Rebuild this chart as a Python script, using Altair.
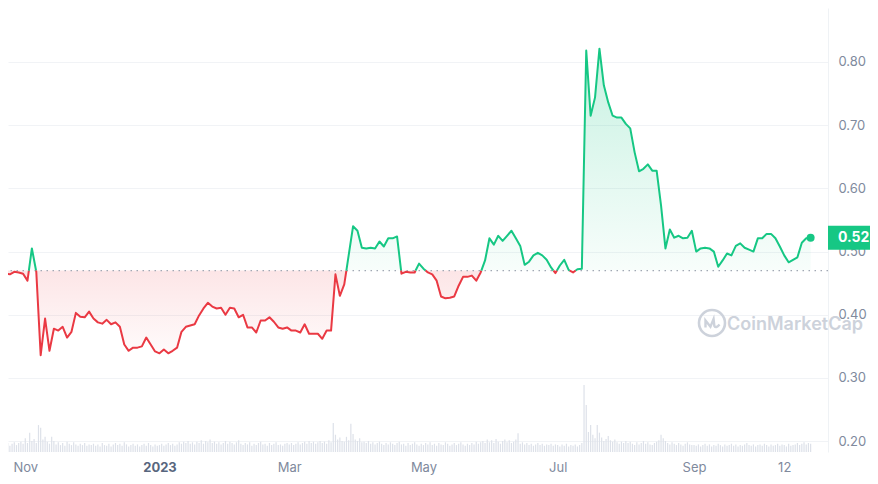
import altair as alt
import pandas as pd

START = "2022-10-23"          # first price point, one point every 2 days
BASE = 0.470                  # baseline (opening price of the period)
GREEN = "#16c784"
RED = "#ea3943"

# ---- price (USD), every 2 days ----
price_oct_jan = [0.465, 0.464, 0.468, 0.467, 0.465, 0.454, 0.505, 0.468, 0.336, 0.394,
                 0.343, 0.378, 0.375, 0.381, 0.364, 0.373, 0.403, 0.397, 0.396, 0.405,
                 0.394, 0.388, 0.386, 0.392, 0.385, 0.388, 0.381, 0.353, 0.343, 0.348,
                 0.348, 0.350, 0.364, 0.353, 0.342, 0.339, 0.345, 0.339, 0.343, 0.348,
                 0.373, 0.381, 0.383, 0.385, 0.399, 0.410]
price_jan_apr = [0.419, 0.413, 0.410, 0.411, 0.400, 0.411, 0.410, 0.396, 0.400, 0.380,
                 0.380, 0.372, 0.391, 0.391, 0.396, 0.389, 0.380, 0.378, 0.380, 0.375,
                 0.375, 0.372, 0.385, 0.370, 0.370, 0.370, 0.362, 0.375, 0.375, 0.464,
                 0.430, 0.448, 0.494, 0.540, 0.533, 0.506, 0.505, 0.506, 0.505, 0.516,
                 0.508, 0.521, 0.521, 0.524, 0.465, 0.468]
price_apr_jul = [0.467, 0.467, 0.481, 0.473, 0.467, 0.464, 0.454, 0.429, 0.426, 0.427,
                 0.429, 0.446, 0.460, 0.460, 0.462, 0.454, 0.467, 0.486, 0.521, 0.511,
                 0.525, 0.517, 0.525, 0.533, 0.521, 0.509, 0.479, 0.484, 0.494, 0.498,
                 0.494, 0.487, 0.475, 0.466, 0.478, 0.487, 0.471, 0.467, 0.472, 0.473,
                 0.818, 0.715, 0.744, 0.821, 0.763, 0.736]
price_jul_oct = [0.715, 0.712, 0.712, 0.702, 0.695, 0.657, 0.627, 0.631, 0.638, 0.628,
                 0.628, 0.573, 0.505, 0.535, 0.522, 0.525, 0.521, 0.522, 0.533, 0.500,
                 0.505, 0.506, 0.505, 0.500, 0.476, 0.486, 0.497, 0.494, 0.509, 0.513,
                 0.506, 0.503, 0.500, 0.521, 0.521, 0.528, 0.528, 0.521, 0.508, 0.494,
                 0.483, 0.487, 0.491, 0.514, 0.521, 0.522]

# ---- daily volume (billion USD) ----
vol_2022_10 = [1.1, 1.3, 0.9, 1.2, 1.4, 1.0, 1.3, 1.5, 1.2]
vol_2022_11 = [2.0, 1.3, 2.8, 1.6, 1.9, 1.3, 3.9, 3.5, 1.8, 2.2, 1.5, 1.2, 2.2, 1.6, 1.1,
               1.4, 1.0, 1.3, 0.9, 1.5, 1.2, 1.0, 1.4, 1.1, 0.9, 1.2, 1.0, 1.3, 0.9, 1.1]
vol_2022_12 = [1.0, 1.2, 0.9, 1.1, 0.8, 1.3, 1.0, 0.9, 1.2, 0.8, 1.1, 1.3, 1.0, 1.2, 0.9,
               1.4, 1.1, 0.8, 1.0, 1.2, 0.9, 1.1, 0.8, 1.0, 1.2, 0.9, 1.3, 1.0, 0.8, 1.1, 0.9]
vol_2023_01 = [1.0, 1.2, 0.9, 1.1, 1.3, 1.0, 1.2, 0.9, 1.1, 1.4, 1.2, 1.5, 1.3, 1.6, 1.2,
               1.4, 1.1, 1.5, 1.3, 1.7, 1.2, 1.6, 1.4, 1.8, 1.3, 1.5, 1.2, 1.4, 1.1, 1.3, 1.6]
vol_2023_02 = [1.2, 1.5, 1.3, 1.1, 1.4, 1.7, 1.2, 1.0, 1.3, 1.1, 1.4, 0.9, 1.2, 1.0, 1.3,
               1.5, 1.1, 1.2, 0.9, 1.3, 1.0, 1.2, 1.4, 1.0, 1.1, 0.9, 1.2, 1.3]
vol_2023_03 = [1.1, 1.3, 1.0, 1.2, 1.4, 1.1, 1.3, 1.5, 1.2, 1.6, 1.3, 1.5, 1.2, 1.4, 1.6,
               1.3, 1.5, 1.2, 1.7, 1.4, 4.2, 2.5, 1.8, 2.1, 1.6, 1.5, 2.2, 1.7, 4.1, 2.6, 1.8]
vol_2023_04 = [1.6, 2.0, 1.4, 1.5, 1.3, 1.6, 1.2, 1.4, 1.1, 1.3, 1.5, 1.2, 1.0, 1.3, 1.1,
               1.4, 1.2, 1.0, 1.3, 1.5, 1.1, 1.2, 0.9, 1.3, 1.0, 1.2, 1.4, 1.1, 0.9, 1.2]
vol_2023_05 = [1.0, 1.3, 1.1, 1.4, 1.0, 1.2, 0.9, 1.3, 1.1, 1.0, 1.4, 1.2, 0.9, 1.1, 1.3,
               1.0, 1.2, 1.4, 1.1, 0.9, 1.2, 1.0, 1.3, 1.1, 1.5, 1.2, 1.4, 1.6, 1.3, 1.8, 1.4]
vol_2023_06 = [1.7, 1.3, 1.9, 1.5, 1.2, 1.6, 1.8, 1.4, 1.7, 1.3, 1.5, 1.8, 2.7, 1.2, 1.4,
               1.1, 1.3, 1.0, 1.2, 0.9, 1.1, 1.3, 1.0, 1.2, 0.9, 1.1, 1.0, 1.2, 0.9, 1.1]
vol_2023_07 = [1.0, 0.8, 1.1, 0.9, 1.2, 0.8, 1.0, 0.9, 1.1, 0.8, 1.0, 1.3, 9.7, 6.8, 2.9,
               3.9, 2.5, 2.0, 3.9, 2.8, 2.1, 1.6, 1.9, 2.3, 1.7, 1.5, 1.8, 1.4, 1.2, 1.5, 1.3]
vol_2023_08 = [1.6, 1.3, 1.5, 1.2, 1.0, 1.4, 1.1, 1.3, 1.6, 1.2, 1.4, 1.1, 1.0, 1.3, 1.5,
               1.7, 2.5, 2.0, 1.6, 1.3, 1.1, 1.4, 1.2, 1.0, 1.3, 1.1, 0.9, 1.2, 1.4, 1.1, 1.0]
vol_2023_09 = [1.0, 0.9, 1.1, 0.8, 1.0, 1.2, 0.9, 1.1, 0.8, 1.0, 0.9, 1.2, 1.0, 0.8, 1.1,
               0.9, 1.0, 1.2, 0.9, 1.1, 0.8, 1.0, 0.9, 1.1, 1.3, 1.0, 0.9, 1.1, 0.8, 1.0]
vol_2023_10 = [1.1, 0.9, 1.2, 1.0, 0.8, 1.1, 0.9, 1.0, 1.2, 0.9, 1.1, 1.0, 0.8, 1.2, 0.9,
               1.0, 1.1, 1.3, 1.0, 1.2, 1.4, 1.1, 1.3, 1.2]
vol_months = [("2022-10-23", vol_2022_10), ("2022-11-01", vol_2022_11), ("2022-12-01", vol_2022_12),
              ("2023-01-01", vol_2023_01), ("2023-02-01", vol_2023_02), ("2023-03-01", vol_2023_03),
              ("2023-04-01", vol_2023_04), ("2023-05-01", vol_2023_05), ("2023-06-01", vol_2023_06),
              ("2023-07-01", vol_2023_07), ("2023-08-01", vol_2023_08), ("2023-09-01", vol_2023_09),
              ("2023-10-01", vol_2023_10)]

# ---- axis ticks ----
x_ticks = [alt.DateTime(year=2022, month=11, date=1), alt.DateTime(year=2023, month=1, date=1),
           alt.DateTime(year=2023, month=3, date=1), alt.DateTime(year=2023, month=5, date=1),
           alt.DateTime(year=2023, month=7, date=1), alt.DateTime(year=2023, month=9, date=1),
           alt.DateTime(year=2023, month=10, date=12)]
y_ticks = [0.20, 0.30, 0.40, 0.50, 0.60, 0.70, 0.80]

# ---------------- data frames ----------------
prices = price_oct_jan + price_jan_apr + price_apr_jul + price_jul_oct
dates = pd.date_range(START, periods=len(prices), freq="2D")

pts = []
seg = 0
prev = None
for t, p in zip(dates, prices):
    s = "up" if p >= BASE else "down"
    if prev is not None and s != prev[2]:
        t0, p0, s0 = prev
        f = (BASE - p0) / (p - p0)
        tc = (t0 + (t - t0) * f).round("s")
        pts.append((tc, BASE, seg, s0))
        seg += 1
        pts.append((tc, BASE, seg, s))
    pts.append((t, p, seg, s))
    prev = (t, p, s)
line_df = pd.DataFrame(pts, columns=["date", "price", "seg", "sign"])

area_df = line_df.drop_duplicates(subset=["date"]).copy()
area_df["up"] = area_df["price"].clip(lower=BASE)
area_df["down"] = area_df["price"].clip(upper=BASE)
area_df["base"] = BASE
area_df = area_df[["date", "up", "down", "base"]]

last_df = pd.DataFrame({"date": [dates[-1]], "price": [prices[-1]]})
base_df = pd.DataFrame({"base": [BASE]})

vrows = []
for start, vals in vol_months:
    for k, v in enumerate(vals):
        vrows.append((pd.Timestamp(start) + pd.Timedelta(days=k), v))
vol_df = pd.DataFrame(vrows, columns=["date", "volume"])

# ---------------- scales / axes ----------------
x_scale = alt.Scale(domain=[alt.DateTime(year=2022, month=10, date=26, hours=10),
                            alt.DateTime(year=2023, month=10, date=29, hours=15)], nice=False)
x_axis = alt.Axis(
    values=x_ticks, title=None, grid=False, domain=False, ticks=False,
    labelPadding=9, labelFontSize=13, labelFlush=False, labelOverlap=False,
    labelExpr="month(datum.value) == 0 ? timeFormat(datum.value, '%Y') : "
              "(month(datum.value) == 9 ? timeFormat(datum.value, '%-d') : timeFormat(datum.value, '%b'))",
    labelColor={"condition": {"test": "month(datum.value) == 0", "value": "#58667e"}, "value": "#808a9d"},
    labelFontWeight={"condition": {"test": "month(datum.value) == 0", "value": 700}, "value": 400},
)
X = alt.X("date:T", scale=x_scale, axis=x_axis)

y_scale = alt.Scale(domain=[0.1829, 0.8854], nice=False, zero=False)
y_axis = alt.Axis(orient="right", values=y_ticks, format=".2f", title=None,
                  grid=True, gridColor="#f1f3f6", gridWidth=1,
                  domain=True, domainColor="#eff2f5", ticks=False,
                  labelPadding=10, labelFontSize=13, labelColor="#808a9d")

def Yp(field):
    return alt.Y(field, scale=y_scale, axis=y_axis)

# ---------------- layers ----------------
volume = alt.Chart(vol_df).mark_bar(width=1.2, color="#dde1e9", clip=True).encode(
    x=X, y=alt.Y("volume:Q", scale=alt.Scale(domain=[0, 64.3]), axis=None))

green_grad = alt.Gradient(gradient="linear", x1=0, x2=0, y1=0, y2=1, stops=[
    alt.GradientStop(color="rgba(22,199,132,0.24)", offset=0),
    alt.GradientStop(color="rgba(22,199,132,0.03)", offset=1)])
red_grad = alt.Gradient(gradient="linear", x1=0, x2=0, y1=0, y2=1, stops=[
    alt.GradientStop(color="rgba(234,57,67,0.13)", offset=0),
    alt.GradientStop(color="rgba(234,57,67,0.02)", offset=1)])

area_up = alt.Chart(area_df).mark_area(color=green_grad, opacity=1, clip=True).encode(
    x=X, y=Yp("up:Q"), y2="base:Q")
area_down = alt.Chart(area_df).mark_area(color=red_grad, opacity=1, clip=True).encode(
    x=X, y=Yp("down:Q"), y2="base:Q")

base_rule = alt.Chart(base_df).mark_rule(color="#a1a7b3", strokeWidth=1.2,
                                         strokeDash=[1.5, 4.5]).encode(y=Yp("base:Q"))

line = alt.Chart(line_df).mark_line(strokeWidth=2, clip=True, strokeJoin="round").encode(
    x=X, y=Yp("price:Q"),
    color=alt.Color("sign:N", scale=alt.Scale(domain=["up", "down"], range=[GREEN, RED]), legend=None),
    detail="seg:N")

dot = alt.Chart(last_df).mark_circle(size=64, color=GREEN, opacity=1).encode(x=X, y=Yp("price:Q"))

badge = alt.Chart(last_df).mark_rule(color=GREEN, strokeWidth=24, strokeCap="butt").encode(
    x=alt.value(820), x2=alt.value(870), y=Yp("price:Q"))
badge_text = alt.Chart(last_df).mark_text(align="left", baseline="middle", fontSize=14,
                                          fontWeight=700, color="white").encode(
    x=alt.value(830), y=Yp("price:Q"), text=alt.Text("price:Q", format=".2f"))

price_layer = alt.layer(area_up, area_down, base_rule, line, dot, badge, badge_text)

wm_df = pd.DataFrame({"t": ["CoinMarketCap"]})
WM = "#cdd2db"
wm_text = alt.Chart(wm_df).mark_text(align="left", baseline="middle", fontSize=18,
                                     fontWeight=600, color=WM).encode(
    x=alt.value(719), y=alt.value(317), text="t:N")
wm_ring = alt.Chart(wm_df).mark_point(shape="circle", size=676, filled=False, strokeWidth=2.6,
                                      color=WM, opacity=1).encode(x=alt.value(704), y=alt.value(315))
wm_m = alt.Chart(wm_df).mark_point(
    shape="M-0.5,0.35 L-0.5,-0.2 L-0.12,0.28 L0.12,-0.3 L0.18,0.22 Q0.3,0.45 0.58,0.12",
    size=676, filled=False, strokeWidth=2.4, color=WM, opacity=1,
).encode(x=alt.value(704), y=alt.value(315))

chart = alt.layer(volume, price_layer, wm_ring, wm_m, wm_text).resolve_scale(
    y="independent"
).properties(
    width=820, height=444,
    padding={"left": 0, "top": 0, "right": 42, "bottom": 26},
    autosize=alt.AutoSizeParams(type="none"),
).configure(font="Inter").configure_view(stroke=None)

chart.save("out.html", embed_options={"renderer": "svg", "actions": False})
